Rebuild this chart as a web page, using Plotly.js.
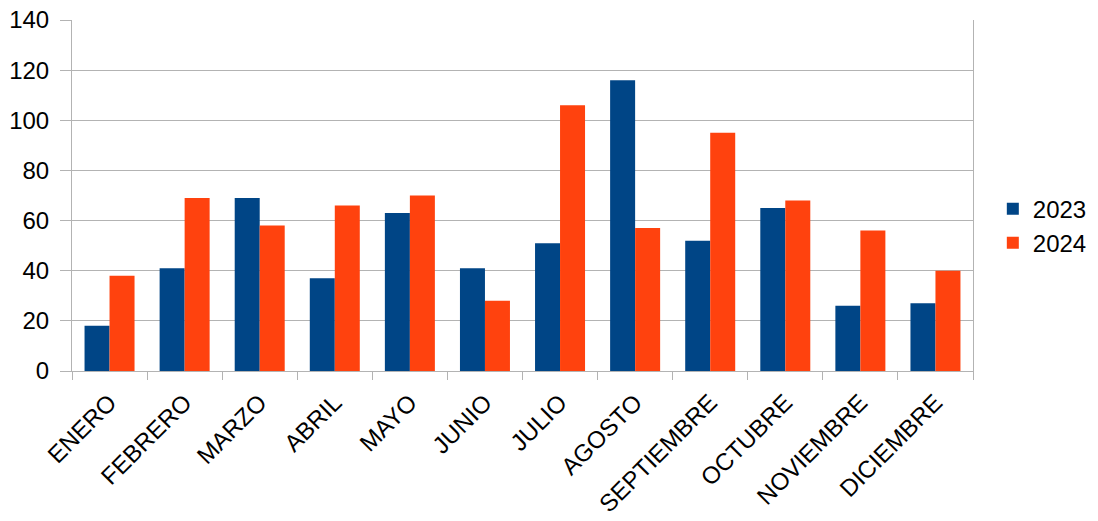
<!DOCTYPE html>
<html><head><meta charset="utf-8">
<script src="https://cdn.plot.ly/plotly-3.0.1.min.js"></script>
<style>html,body{margin:0;padding:0;background:#fff}#chart{width:1098px;height:521px}</style>
</head><body><div id="chart"></div>
<script>
var months = ["ENERO","FEBRERO","MARZO","ABRIL","MAYO","JUNIO","JULIO","AGOSTO","SEPTIEMBRE","OCTUBRE","NOVIEMBRE","DICIEMBRE"];
var values2023 = [18,41,69,37,63,41,51,116,52,65,26,27];
var values2024 = [38,69,58,66,70,28,106,57,95,68,56,40];
var yTicks = [0,20,40,60,80,100,120,140];

var traces = [
  {type:"bar", name:"2023", x:months, y:values2023, marker:{color:"#004586"}},
  {type:"bar", name:"2024", x:months, y:values2024, marker:{color:"#ff420e"}}
];
var layout = {
  width:1098, height:521,
  margin:{l:72, r:125, t:20, b:150, autoexpand:false},
  paper_bgcolor:"#fff", plot_bgcolor:"#fff",
  font:{family:"Liberation Sans, Arial, sans-serif", size:24, color:"#000"},
  barmode:"group", bargap:0.334, bargroupgap:0,
  xaxis:{type:"category", tickangle:-45, tickson:"boundaries", ticks:"outside", ticklen:8, tickcolor:"#b3b3b3",
         showline:true, linecolor:"#b3b3b3", linewidth:1, showgrid:false, tickfont:{size:24}, ticklabelstandoff:7},
  yaxis:{range:[0,140], tickvals:yTicks, ticks:"outside", ticklen:11, tickcolor:"#b3b3b3", ticklabelstandoff:6,
         showline:true, mirror:true, linecolor:"#b3b3b3", gridcolor:"#b3b3b3", zeroline:false, tickfont:{size:24}},
  legend:{x:1.022, xanchor:"left", y:0.413, yanchor:"middle", font:{size:24}, itemwidth:30},
  showlegend:true
};
Plotly.newPlot("chart", traces, layout, {displayModeBar:false, staticPlot:true});
</script></body></html>
